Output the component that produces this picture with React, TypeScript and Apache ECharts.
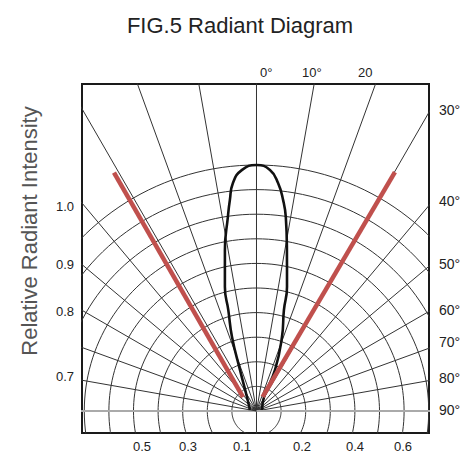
import React, { useEffect, useRef } from "react";
import * as echarts from "echarts";

// ---- data ----
const ringIntensities = [0.1, 0.2, 0.3, 0.4, 0.5, 0.6, 0.7, 0.8, 0.9, 1.0];
const spokeAngles = [-90, -80, -70, -60, -50, -40, -30, -20, -10, 0, 10, 20, 30, 40, 50, 60, 70, 80, 90];

// radiation lobe: angle from axis (deg, negative = left) and relative intensity
const lobeAngles = [-81, -34.2, -21.9, -18.3, -15.6, -14.3, -11.1, -8.4, -7.2, -5.9, -3.5, 0, 3.2, 5.4, 7.2, 8.6, 10.7, 13.8, 15.2, 19.0, 24.3, 28.2, 80];
const lobeIntensity = [0.027, 0.069, 0.18, 0.317, 0.426, 0.52, 0.667, 0.797, 0.864, 0.932, 0.981, 1.0, 0.981, 0.931, 0.864, 0.797, 0.666, 0.52, 0.425, 0.318, 0.183, 0.065, 0.023];

// red half-angle beams (start, end) as angle / intensity
const redLeftAngles = [-43.96, -30.87];
const redLeftIntensity = [0.079, 1.129];
const redRightAngles = [23.4, 30.1];
const redRightIntensity = [0.063, 1.122];

// labels
const titleText = "FIG.5 Radiant Diagram";
const yAxisName = "Relative Radiant Intensity";
const topLabels = ["0°", "10°", "20"];
const rightLabels = ["30°", "40°", "50°", "60°", "70°", "80°", "90°"];
const leftLabels = ["1.0", "0.9", "0.8", "0.7"];
const bottomLabels = ["0.5", "0.3", "0.1", "0.2", "0.4", "0.6"];

// ---- layout (pixels) ----
const topLabelX = [260, 302, 358];
const topLabelY = 72;
const rightLabelX = 439;
const rightLabelY = [110, 201, 264, 310, 342, 378, 410];
const leftLabelX = 74;
const leftLabelY = [206, 264, 311, 376];
const bottomLabelX = [142, 188, 242, 302, 355, 403];
const bottomLabelY = 446;

const FONT = "'Liberation Sans', Arial, sans-serif";
const rad = (d: number) => (d * Math.PI) / 180;
const toXY = (deg: number, r: number) => [r * Math.sin(rad(deg)), r * Math.cos(rad(deg))];

export default function App() {
  const ref = useRef<HTMLDivElement>(null);
  useEffect(() => {
    if (!ref.current) return;
    const chart = echarts.init(ref.current, null, { renderer: "svg" });

    const series: any[] = [];
    ringIntensities.forEach((r) => {
      const pts: number[][] = [];
      for (let a = 0; a <= 360; a += 2) pts.push(toXY(a, r));
      series.push({
        type: "line", data: pts, showSymbol: false, silent: true, clip: true, z: 1,
        lineStyle: { color: "#333", width: 1 },
      });
    });
    spokeAngles.forEach((a) => {
      const horiz = Math.abs(a) === 90;
      const start = a === 0 ? [0, -0.3] : [0, 0];
      series.push({
        type: "line", data: [start, toXY(a, 2.5)], showSymbol: false, silent: true, clip: true, z: 1,
        lineStyle: { color: horiz ? "#aaa" : "#333", width: horiz ? 2 : 1 },
      });
    });
    series.push({
      type: "line", data: lobeAngles.map((a, i) => toXY(a, lobeIntensity[i])),
      showSymbol: false, smooth: 0.5, smoothMonotone: "none", silent: true, z: 3,
      lineStyle: { color: "#111", width: 2.6 },
    });
    series.push({
      type: "line", data: redLeftAngles.map((a, i) => toXY(a, redLeftIntensity[i])),
      showSymbol: false, silent: true, z: 4,
      lineStyle: { color: "#c0504d", width: 4.5 },
    });
    series.push({
      type: "line", data: redRightAngles.map((a, i) => toXY(a, redRightIntensity[i])),
      showSymbol: false, silent: true, z: 4,
      lineStyle: { color: "#c0504d", width: 4.5 },
    });

    const smallText = (text: string, x: number, y: number, align: string, size = 13) => ({
      type: "text", x, y,
      style: { text, fill: "#222", font: `${size}px ${FONT}`, textAlign: align, textVerticalAlign: "middle" },
    });

    const graphic: any[] = [
      {
        type: "text", x: 240, y: 25,
        style: { text: titleText, fill: "#222", font: `22px ${FONT}`, textAlign: "center", textVerticalAlign: "middle" },
      },
      {
        type: "text", x: 29, y: 231, rotation: Math.PI / 2,
        style: { text: yAxisName, fill: "#555", font: `22px ${FONT}`, textAlign: "center", textVerticalAlign: "middle" },
      },
      ...topLabels.map((t, i) => smallText(t, topLabelX[i], topLabelY, "left")),
      ...rightLabels.map((t, i) => smallText(t, rightLabelX, rightLabelY[i], "left", 14)),
      ...leftLabels.map((t, i) => smallText(t, leftLabelX, leftLabelY[i], "right")),
      ...bottomLabels.map((t, i) => smallText(t, bottomLabelX[i], bottomLabelY, "center")),
    ];

    chart.setOption({
      animation: false,
      backgroundColor: "#fff",
      grid: {
        show: true, left: 82, top: 84, width: 347, height: 349,
        borderColor: "#1a1a1a", borderWidth: 2, backgroundColor: "transparent",
      },
      xAxis: { type: "value", min: -0.7093, max: 0.7012, show: false },
      yAxis: { type: "value", min: -0.0894, max: 1.3293, show: false },
      series,
      graphic,
    });
    return () => chart.dispose();
  }, []);
  return <div ref={ref} style={{ position: "fixed", left: 0, top: 0, width: 464, height: 455 }} />;
}
